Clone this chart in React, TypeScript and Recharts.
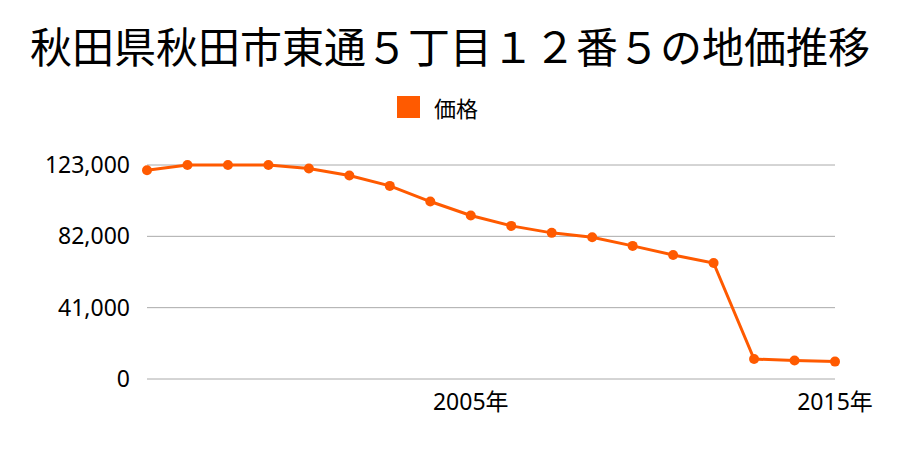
import React from "react";
import { LineChart, Line, XAxis, YAxis, CartesianGrid, Legend } from "recharts";

const TITLE = "秋田県秋田市東通５丁目１２番５の地価推移";
const SERIES_NAME = "価格";

// one label per survey point; only two of them are shown on the axis
const xLabels = [
  "", "", "", "", "", "", "", "", "2005年",
  "", "", "", "", "", "", "", "", "2015年",
];

const prices = [
  120000, 123000, 123000, 123000, 121000, 117000, 111000, 102000, 94000,
  88000, 84000, 81500, 76500, 71300, 66700, 11500, 10600, 10000,
];

const yTicks = [0, 41000, 82000, 123000];

const data = xLabels.map((label, i) => ({ idx: i, label, price: prices[i] }));

const FONT = '"Noto Sans CJK JP", "Noto Sans", sans-serif';
const TICK_FONT = '"Noto Sans", "Noto Sans CJK JP", sans-serif';
const ORANGE = "#ff5a00";

const axisProps = {
  tickLine: false,
  axisLine: false,
  fontSize: 23,
  fontFamily: TICK_FONT,
};

function LegendBox() {
  return (
    <div
      style={{
        display: "flex",
        alignItems: "center",
        paddingLeft: 397,
        fontFamily: FONT,
        fontSize: 22,
        color: "#000",
      }}
    >
      <span
        style={{
          display: "inline-block",
          width: 23,
          height: 22,
          background: ORANGE,
          marginRight: 14,
        }}
      />
      {SERIES_NAME}
    </div>
  );
}

export default function App() {
  return (
    <div
      style={{
        position: "absolute",
        left: 0,
        top: 0,
        width: 900,
        height: 450,
        background: "#fff",
      }}
    >
      <div
        style={{
          position: "absolute",
          top: 18,
          left: 0,
          width: 900,
          textAlign: "center",
          fontFamily: FONT,
          fontSize: 42,
          lineHeight: "54px",
          color: "#000",
        }}
      >
        {TITLE}
      </div>
      <LineChart
        width={900}
        height={450}
        data={data}
        margin={{ top: 165, right: 65, left: 0, bottom: 41 }}
      >
        <CartesianGrid vertical={false} stroke="#aaaaaa" />
        <XAxis
          dataKey="idx"
          {...axisProps}
          height={30}
          interval={0}
          tickMargin={9}
          tick={{ fill: "#000" }}
          tickFormatter={(v: number) => xLabels[v]}
        />
        <YAxis
          {...axisProps}
          width={147}
          domain={[0, 123000]}
          ticks={yTicks}
          tickMargin={11}
          tick={{ fill: "#000" }}
          tickFormatter={(v: number) => v.toLocaleString("en-US")}
        />
        <Legend
          verticalAlign="middle"
          align="center"
          content={<LegendBox />}
          wrapperStyle={{ top: 91, left: 0, width: 900 }}
        />
        <Line
          type="linear"
          dataKey="price"
          name={SERIES_NAME}
          stroke={ORANGE}
          strokeWidth={3}
          dot={{ r: 5, fill: ORANGE, stroke: ORANGE, strokeWidth: 0 }}
          isAnimationActive={false}
        />
      </LineChart>
    </div>
  );
}
